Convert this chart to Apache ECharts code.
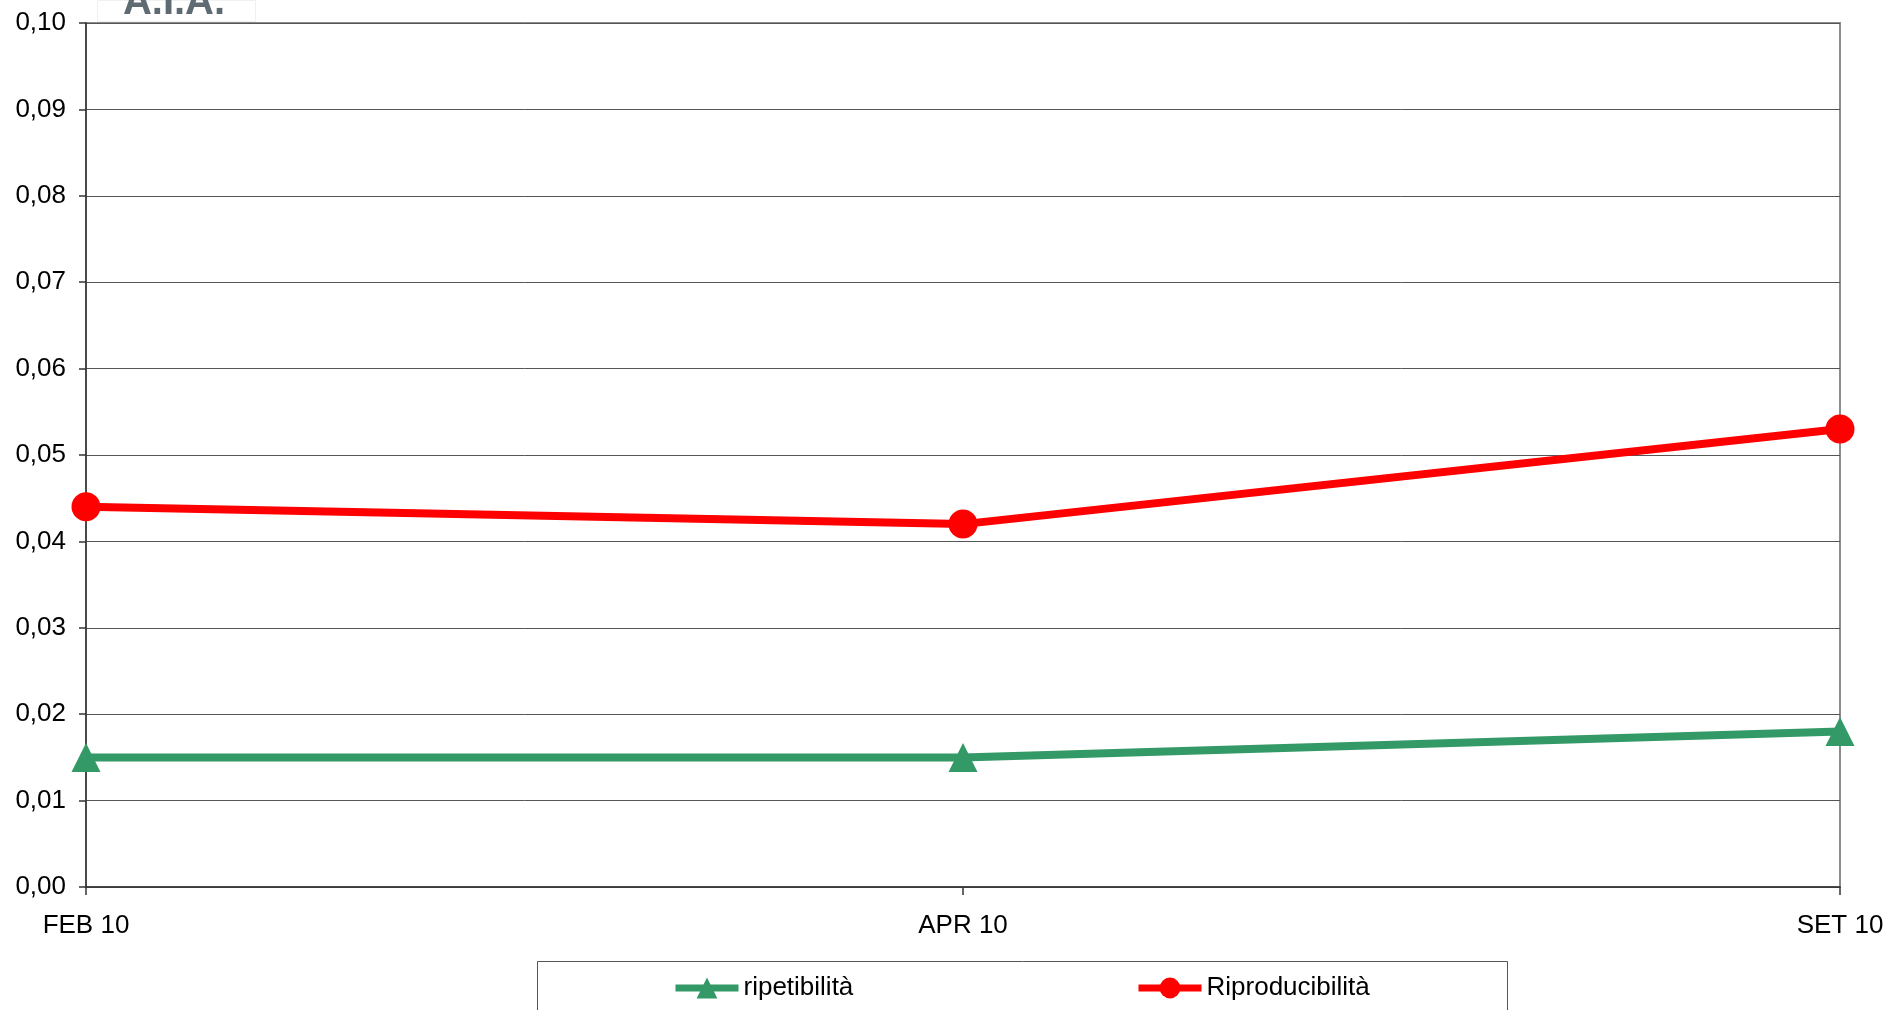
<!DOCTYPE html>
<html>
<head>
<meta charset="utf-8">
<script src="https://cdn.jsdelivr.net/npm/echarts@6/dist/echarts.min.js"></script>
<style>
html,body{margin:0;padding:0;background:#fff;}
#chart{width:1890px;height:1010px;}
</style>
</head>
<body>
<div id="chart"></div>
<script>
const categories = ['FEB 10', 'APR 10', 'SET 10'];
const ripetibilita = [0.015, 0.015, 0.018];
const riproducibilita = [0.044, 0.042, 0.053];
const seriesNames = ['ripetibilità', 'Riproducibilità'];

const FONT = '"Liberation Sans", Arial, sans-serif';
const chart = echarts.init(document.getElementById('chart'), null, {renderer: 'canvas'});
chart.setOption({
  backgroundColor: '#fff',
  animation: false,
  grid: {
    left: 86, right: 50, top: 23, bottom: 123,
    show: true, borderColor: '#8c8c8c', borderWidth: 2, backgroundColor: 'transparent'
  },
  graphic: [
    {type: 'rect', left: 97, top: 0, z: 100,
     shape: {width: 158, height: 21},
     style: {fill: '#fff', stroke: '#f0f0f0', lineWidth: 1}},
    {type: 'text', z: 101,
     style: {text: 'A.I.A.', x: 174, y: 3, textAlign: 'center', textVerticalAlign: 'middle',
             font: 'bold 40px ' + FONT, fill: '#5f6b73'}},
    {type: 'rect', left: 537, top: 961, z: 1,
     shape: {width: 970, height: 60},
     style: {fill: '#fff', stroke: '#555', lineWidth: 1}}
  ],
  legend: [
    {data: [seriesNames[0]], left: 672, top: 975, padding: 0,
     itemWidth: 63, itemHeight: 26, z: 5,
     lineStyle: {width: 7},
     textStyle: {fontFamily: FONT, fontSize: 26, color: '#000'}},
    {data: [seriesNames[1]], left: 1135, top: 975, padding: 0,
     itemWidth: 63, itemHeight: 26, z: 5,
     lineStyle: {width: 7},
     textStyle: {fontFamily: FONT, fontSize: 26, color: '#000'}}
  ],
  xAxis: {
    type: 'category',
    data: categories,
    boundaryGap: false,
    axisLine: {show: true, lineStyle: {color: '#333', width: 1.5}},
    axisTick: {show: true, length: 8, alignWithLabel: true, lineStyle: {color: '#333', width: 1.5}},
    axisLabel: {fontFamily: FONT, fontSize: 26, color: '#000', margin: 26},
    splitLine: {show: false}
  },
  yAxis: {
    type: 'value',
    min: 0, max: 0.1, interval: 0.01,
    axisLine: {show: true, lineStyle: {color: '#333', width: 1.5}},
    axisTick: {show: true, length: 7, lineStyle: {color: '#333', width: 1.5}},
    axisLabel: {fontFamily: FONT, fontSize: 26, color: '#000', margin: 20,
      formatter: v => v.toFixed(2).replace('.', ',')},
    splitLine: {show: true, lineStyle: {color: '#555', width: 1}}
  },
  series: [
    {
      name: seriesNames[0], type: 'line', data: ripetibilita,
      symbol: 'triangle', symbolSize: 29,
      lineStyle: {color: '#339966', width: 8},
      itemStyle: {color: '#339966'},
      z: 3
    },
    {
      name: seriesNames[1], type: 'line', data: riproducibilita,
      symbol: 'circle', symbolSize: 29,
      lineStyle: {color: '#ff0000', width: 8},
      itemStyle: {color: '#ff0000'},
      z: 4
    }
  ]
});
</script>
</body>
</html>
